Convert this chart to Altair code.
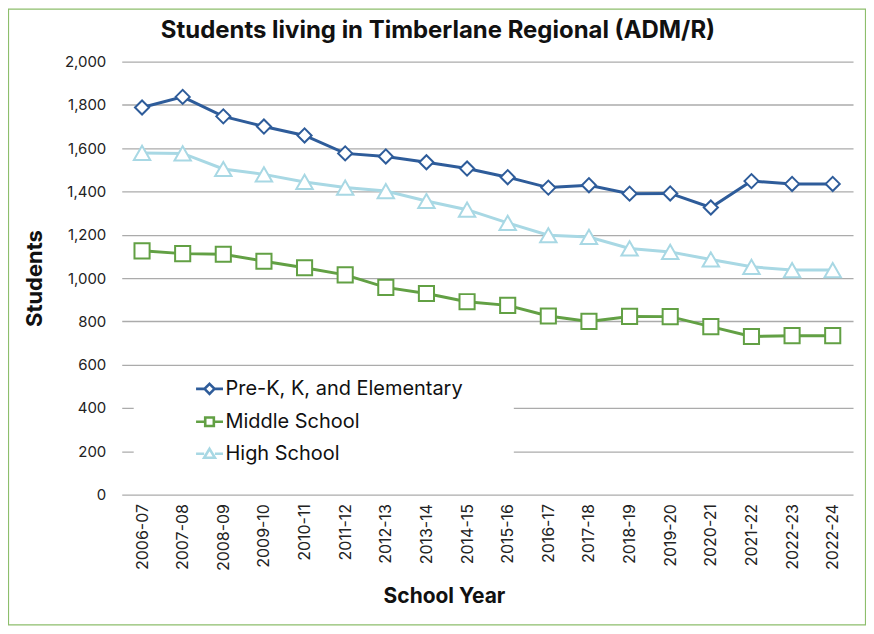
import altair as alt
import pandas as pd

years = ["2006-07", "2007-08", "2008-09", "2009-10", "2010-11", "2011-12",
         "2012-13", "2013-14", "2014-15", "2015-16", "2016-17", "2017-18",
         "2018-19", "2019-20", "2020-21", "2021-22", "2022-23", "2022-24"]

series_names = ["Pre-K, K, and Elementary", "Middle School", "High School"]

elementary = [1788, 1837, 1747, 1700, 1659, 1576, 1562, 1535, 1506, 1466,
              1418, 1429, 1390, 1391, 1326, 1448, 1435, 1435]
middle = [1126, 1113, 1110, 1078, 1048, 1015, 957, 929, 891, 874,
          825, 800, 823, 822, 776, 730, 734, 734]
high = [1578, 1576, 1504, 1479, 1444, 1418, 1402, 1356, 1316, 1255,
        1198, 1190, 1137, 1121, 1086, 1052, 1037, 1037]

colors = ["#2E5C9A", "#62A044", "#A8D8E4"]
marker_shapes = ["diamond", "square", "triangle-up"]
marker_sizes = [200, 230, 270]
legend_paths = [
    "M-1,0L-0.37,0M0.37,0L1,0M0,-0.37L0.37,0L0,0.37L-0.37,0Z",
    "M-1,0L-0.32,0M0.32,0L1,0M-0.32,-0.32L0.32,-0.32L0.32,0.32L-0.32,0.32Z",
    "M-1,0L-0.4,0M0.4,0L1,0M0,-0.36L0.4,0.3L-0.4,0.3Z",
]

rows = []
for name, vals in zip(series_names, [elementary, middle, high]):
    for y, v in zip(years, vals):
        rows.append({"year": y, "series": name, "students": v})
df = pd.DataFrame(rows)

FONT = "Inter"
W, H = 733, 434

x_enc = alt.X("year:N", sort=years,
              scale=alt.Scale(type="point", padding=0.5),
              axis=alt.Axis(title="School Year", labelAngle=-90, labelFontSize=16,
                            labelFont=FONT, labelColor="#222222", labelPadding=9,
                            ticks=False, domain=False, grid=False,
                            titleFont=FONT, titleFontSize=21, titleFontWeight="bold",
                            titleColor="#111111", titleX=323, titleY=102,
                            titleBaseline="middle", titleAlign="center"))
y_enc = alt.Y("students:Q",
              scale=alt.Scale(domain=[0, 2000], nice=False),
              axis=alt.Axis(title="Students", values=list(range(0, 2001, 200)),
                            format=",.0f", labelFontSize=15, labelFont=FONT,
                            labelColor="#222222", labelPadding=16,
                            ticks=False, domain=False, grid=True,
                            gridColor="#ABABAB", gridWidth=1.3,
                            titleFont=FONT, titleFontSize=22, titleFontWeight="bold",
                            titleColor="#111111", titleX=-87, titleY=217,
                            titleAngle=-90, titleBaseline="middle", titleAlign="center"))

deco = pd.DataFrame({"t": ["Students living in Timberlane Regional (ADM/R)"]})

border = alt.Chart(deco).mark_rect(fill="white", fillOpacity=0, stroke="#8DBE6C",
                                   strokeWidth=1.2).encode(
    x=alt.value(-113.5), x2=alt.value(W + 12.5),
    y=alt.value(-52.5), y2=alt.value(H + 130.5))

mask = alt.Chart(deco).mark_rect(fill="white").encode(
    x=alt.value(12), x2=alt.value(393), y=alt.value(311), y2=alt.value(412))

title = alt.Chart(deco).mark_text(font=FONT, fontSize=24, fontWeight="bold",
                                  color="#111111", align="center",
                                  baseline="middle").encode(
    text="t:N", x=alt.value(317), y=alt.value(-31))

line_layers = []
point_layers = []
for name, col, shp, sz in zip(series_names, colors, marker_shapes, marker_sizes):
    line_layers.append(
        alt.Chart(df).transform_filter(alt.datum.series == name)
        .mark_line(strokeWidth=3, color=col)
        .encode(x=x_enc, y=y_enc))
    point_layers.append(
        alt.Chart(df).transform_filter(alt.datum.series == name)
        .mark_point(shape=shp, size=sz, filled=True, fill="white", stroke=col,
                    strokeWidth=2, opacity=1)
        .encode(x=x_enc, y=y_enc))

legend_layer = alt.Chart(df).mark_point(
    filled=False, fill="white", strokeWidth=2.6, opacity=0).encode(
    x=x_enc, y=y_enc,
    color=alt.Color("series:N", scale=alt.Scale(domain=series_names, range=colors),
                    legend=alt.Legend(title=None, orient="none", legendX=73,
                                      legendY=313, symbolSize=729,
                                      symbolFillColor="white",
                                      symbolStrokeWidth=2.6, symbolOpacity=1,
                                      labelFont=FONT, labelFontSize=20,
                                      labelColor="#111111", labelOffset=1,
                                      rowPadding=7, padding=0,
                                      labelLimit=400)),
    shape=alt.Shape("series:N", scale=alt.Scale(domain=series_names, range=legend_paths)))

chart = alt.layer(border, mask, *line_layers, *point_layers, legend_layer, title).properties(
    width=W, height=H,
    autosize=alt.AutoSizeParams(type="none"),
    padding={"left": 114, "top": 53, "right": 13, "bottom": 131},
).configure_view(stroke=None)

chart.save("out.html", embed_options={"renderer": "svg", "actions": False})
